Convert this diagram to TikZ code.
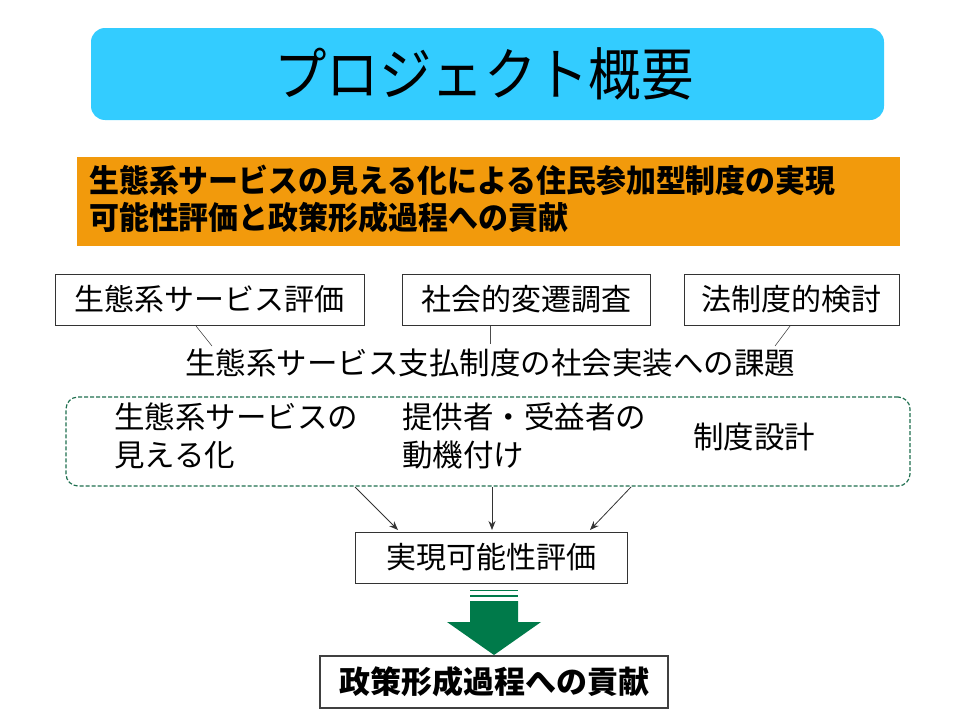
\documentclass[tikz,border=0pt]{standalone}
\usepackage{fontspec}
\setmainfont{Noto Sans CJK JP}
\usetikzlibrary{arrows.meta}
\definecolor{sky}{HTML}{33CCFF}
\definecolor{orng}{HTML}{F29A0C}
\definecolor{dgreen}{HTML}{1F6F4F}
\definecolor{agreen}{HTML}{007A4A}
\tikzset{
  pbox/.style={draw=black!80,line width=0.8pt,minimum height=51pt,inner sep=0pt,font=\fontsize{30}{32}\selectfont},
  ln/.style={draw=black!70,line width=0.6pt},
  arr/.style={draw=black!80,line width=0.8pt,-{Stealth[length=9pt,width=7pt]}},
  txt/.style={font=\fontsize{30.5}{38}\selectfont,align=left,inner sep=0pt,anchor=west}
}
\begin{document}
\begin{tikzpicture}[x=1pt,y=-1pt]
\useasboundingbox (0,0) rectangle (960,720);
\fill[sky,rounded corners=14pt] (91,28) rectangle (884,120);
\node[font=\fontsize{57}{60}\selectfont\addfontfeatures{FakeStretch=0.92}] (title) at (484,74) {プロジェクト概要};
\fill[orng] (77,157) rectangle (900,246);
\node[font=\bfseries\fontsize{31.5}{37}\selectfont\addfontfeatures{FakeStretch=0.95},align=left,anchor=west,inner sep=0pt] (goal) at (89,199) {生態系サービスの見える化による住民参加型制度の実現\\可能性評価と政策形成過程への貢献};
\node[pbox,minimum width=309pt] (b1) at (209.5,299.5) {生態系サービス評価};
\node[pbox,minimum width=248pt] (b2) at (526,299.5) {社会的変遷調査};
\node[pbox,minimum width=215pt] (b3) at (791.5,299.5) {法制度的検討};
\node[font=\fontsize{30.5}{32}\selectfont,inner sep=0pt] (mid) at (490,363) {生態系サービス支払制度の社会実装への課題};
\coordinate (m1) at (212,346); \coordinate (m2) at (490,344); \coordinate (m3) at (775,346);
\coordinate (u1) at (196,326); \coordinate (u2) at (490,326); \coordinate (u3) at (790,326);
\draw[ln] (u1) -- (m1);
\draw[ln] (u2) -- (m2);
\draw[ln] (u3) -- (m3);
\node[draw=dgreen,dash pattern=on 4pt off 2pt,line width=1.2pt,rounded corners=12pt,minimum width=844pt,minimum height=89pt] (dash) at (488,441.5) {};
\node[txt] (t1) at (114,436) {生態系サービスの\\見える化};
\node[txt] (t2) at (402,436) {提供者・受益者の\\動機付け};
\node[txt] (t3) at (693,437) {制度設計};
\node[pbox,minimum width=272pt] (feas) at (491,557.5) {実現可能性評価};
\coordinate (s1) at (355,487); \coordinate (s2) at (492,487); \coordinate (s3) at (631,487);
\draw[arr] (s1) -- (398,530);
\draw[arr] (s2) -- (492,530);
\draw[arr] (s3) -- (590,530);
\draw[agreen,line width=1pt] (470,590) -- (518,590);
\fill[agreen] (470,595) rectangle (518,597);
\fill[agreen] (470,601) -- (518,601) -- (518,622) -- (541,622) -- (494,655) -- (447,622) -- (470,622) -- cycle;
\node[draw=black!75,line width=1.6pt,minimum width=348pt,minimum height=52pt,font=\bfseries\fontsize{31}{33}\selectfont] (final) at (494,682) {政策形成過程への貢献};
\end{tikzpicture}
\end{document}
